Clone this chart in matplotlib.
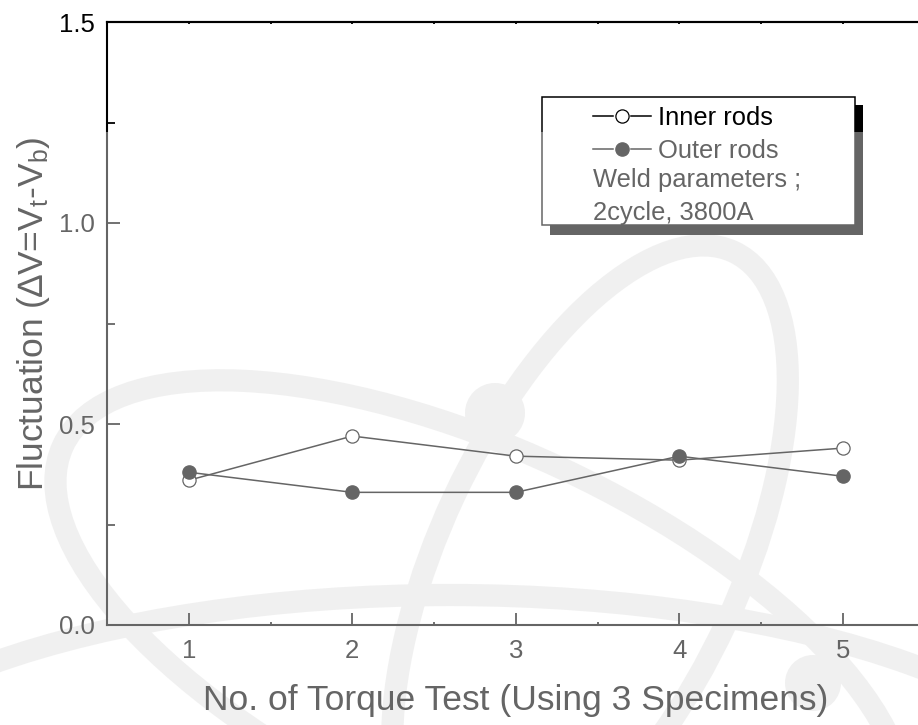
import numpy as np
import matplotlib.pyplot as plt
from matplotlib.patches import Ellipse, Circle, Rectangle
from matplotlib.ticker import MultipleLocator

plt.rcParams['font.family'] = ['Liberation Sans', 'DejaVu Sans']
plt.rcParams['mathtext.default'] = 'regular'

# torque test results
test_no = [1, 2, 3, 4, 5]
inner_rods = [0.36, 0.47, 0.42, 0.41, 0.44]
outer_rods = [0.38, 0.33, 0.33, 0.42, 0.37]
xticks = [1, 2, 3, 4, 5]
yticks = [0.0, 0.5, 1.0, 1.5]
series_names = ["Inner rods", "Outer rods"]
note = ["Weld parameters ;", "2cycle, 3800A"]

W, H = 918, 725
fig = plt.figure(figsize=(W / 100, H / 100), dpi=100)

# faint atom logo behind the plot (pixel coords, y down)
bg = fig.add_axes([0, 0, 1, 1], zorder=0)
bg.set_xlim(0, W)
bg.set_ylim(H, 0)
bg.axis('off')
logo = '#e7e7e7'
for cx, cy, w, h, ang in [(450, 830, 1300, 470, 0),
                          (590, 560, 680, 300, -65),
                          (480, 640, 920, 380, 25)]:
    bg.add_patch(Ellipse((cx, cy), w, h, angle=ang, fill=False, ec=logo, lw=16))
for cx, cy, r in [(495, 413, 30), (813, 683, 28)]:
    bg.add_patch(Circle((cx, cy), r, fc=logo, ec='none'))

ax = fig.add_axes([107 / W, (H - 625) / H, (924.5 - 107) / W, (625 - 22) / H], zorder=1)
ax.patch.set_alpha(0)

inner_style = dict(color='k', lw=1.1, marker='o', ms=9.5, mfc='white', mec='k', mew=0.9)
outer_style = dict(color='k', lw=1.1, marker='o', ms=9.5, mfc='k', mec='k')
ax.plot(test_no, inner_rods, **inner_style)
ax.plot(test_no, outer_rods, **outer_style)

ax.set_xlim(0.5, 5.5)
ax.set_ylim(0, 1.5)
ax.set_xticks(xticks)
ax.set_yticks(yticks)
ax.set_yticklabels([f'{v:.1f}' for v in yticks])
ax.xaxis.set_minor_locator(MultipleLocator(0.5))
ax.yaxis.set_minor_locator(MultipleLocator(0.25))

ax.tick_params(axis='both', which='both', direction='in', colors='k', width=1.3,
               labelsize=18.5, right=False, top=False)
ax.tick_params(axis='x', which='major', length=8.5, pad=10)
ax.tick_params(axis='x', which='minor', length=2)
ax.tick_params(axis='y', which='major', length=9.5, pad=8.5)
ax.tick_params(axis='y', which='minor', length=6)

for side in ['left', 'bottom', 'top']:
    ax.spines[side].set_linewidth(1.5)
ax.spines['right'].set_visible(False)

top = ax.secondary_xaxis('top')
top.set_xticks([1, 2, 3, 4, 5])
top.xaxis.set_minor_locator(MultipleLocator(0.5))
top.tick_params(which='both', direction='in', length=1.5, width=1.3, labeltop=False)
top.spines['top'].set_linewidth(1.5)

ax.set_xlabel('No. of Torque Test (Using 3 Specimens)', fontsize=25.5)
ax.xaxis.label.set_va('baseline')
ax.xaxis.set_label_coords(0.5, (625 - 710) / 603)

ax.set_ylabel('Fluctuation (\u2206V=V$_t$-V$_b$)', fontsize=25.5)
ax.yaxis.label.set(ha='center', va='center', rotation_mode='default')
ax.yaxis.set_label_coords((34 - 107) / 817.5, (625 - 314) / 603)

# legend box with drop shadow
fg = fig.add_axes([0, 0, 1, 1], zorder=2)
fg.set_xlim(0, W)
fg.set_ylim(H, 0)
fg.axis('off')
fg.add_patch(Rectangle((550, 105), 313, 130, fc='k', ec='none'))
fg.add_patch(Rectangle((542, 97), 313, 128, fc='white', ec='k', lw=1.1))
for y, style, name in [(116, inner_style, series_names[0]), (149, outer_style, series_names[1])]:
    # short dash, symbol, short dash
    fg.plot([593, 613], [y, y], color=style['color'], lw=style['lw'])
    fg.plot([631, 651], [y, y], color=style['color'], lw=style['lw'])
    fg.plot([622], [y], ls='none', **{k: v for k, v in style.items() if k not in ('color', 'lw')})
    fg.text(658, y + 9, name, fontsize=18.4, va='baseline')
fg.text(593, 187, note[0], fontsize=18.4, va='baseline')
fg.text(593, 220, note[1], fontsize=18.4, va='baseline')

# lower part of the sheet is washed out
fig.add_artist(Rectangle((0, 0), 1, (H - 131.5) / H, transform=fig.transFigure,
                         fc='white', ec='none', alpha=0.4, zorder=10))

fig.savefig('out.png', dpi=100)
